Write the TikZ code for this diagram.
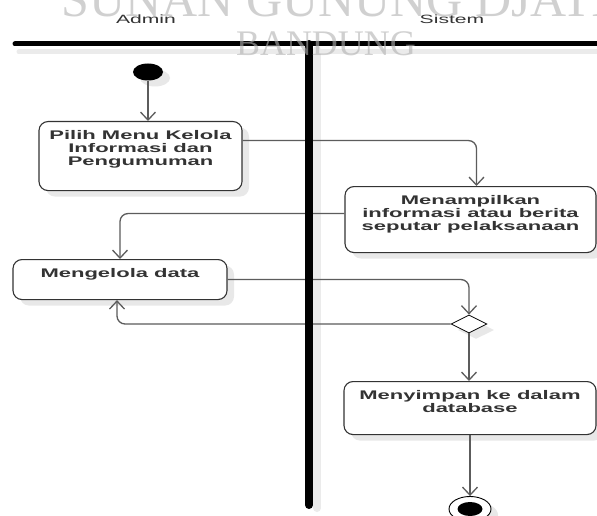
\documentclass[tikz,border=0pt]{standalone}
\usepackage{fontspec}
\usepackage{xcolor}
\usepackage{tikz}
\usetikzlibrary{arrows.meta,shapes.geometric,shadows}
\setmainfont[FakeStretch=1.76]{Liberation Sans}
\newfontfamily\markfont{Liberation Serif}
\newcommand*{\xMin}{0}
\newcommand*{\xMax}{597}
\newcommand*{\yMin}{0}
\newcommand*{\yMax}{516}
\newcommand*{\xLane}{309}
\newcommand*{\yLane}{44}
\definecolor{inkgray}{HTML}{333333}
\definecolor{flowgray}{HTML}{5C5C5C}
\tikzset{
  shade box/.style={drop shadow={shadow xshift=7pt,shadow yshift=-6pt,fill=black!9,opacity=1}},
  act/.style={draw=inkgray,line width=1.1pt,rounded corners=9pt,fill=white,shade box,
    align=center,anchor=north,inner ysep=7.5pt,text height=#1,text depth=15pt,
    font=\fontsize{12.5}{13}\selectfont\bfseries,text=inkgray},
  flow/.style={draw=flowgray,line width=1.3pt,rounded corners=8pt,
    -{Straight Barb[length=8pt,width=15pt]}},
  lane/.style={line width=#1,line cap=round},
  watermark/.style={text=black!30,text opacity=0.6,anchor=base,inner sep=0pt},
}

\begin{document}
\begin{tikzpicture}[x=1pt,y=-1pt]
    \useasboundingbox[fill=white] (\xMin,\yMin) rectangle (\xMax,\yMax);

    \draw [lane=5pt,black!8] (19,\yLane+8) -- (\xMax,\yLane+8);
    \draw [lane=8pt,black!8] (\xLane+8,\yLane+6) -- (\xLane+8,508);

    \node [font=\fontsize{12}{14}\selectfont,text=inkgray] (admin) at (146,19) {Admin};
    \node [font=\fontsize{12}{14}\selectfont,text=inkgray] (sistem) at (452,19) {Sistem};

    \node [ellipse,fill=black,minimum width=30pt,minimum height=17pt,inner sep=0pt,shade box] (mulai) at (148,72) {};
    \node [act=36pt,text depth=18pt,minimum width=203pt] (pilih) at (140.5,121) {Pilih Menu Kelola\\Informasi dan\\Pengumuman};
    \node [act=36pt,minimum width=251pt] (tampil) at (470.5,186) {Menampilkan\\informasi atau berita\\seputar pelaksanaan};
    \node [act=10pt,minimum width=214pt] (kelola) at (120,259) {Mengelola data};
    \node [diamond,aspect=2,draw=black,fill=white,line width=0.8pt,minimum width=36pt,minimum height=18pt,inner sep=0pt,shade box] (cek) at (469,324) {};
    \node [act=23pt,minimum width=252pt] (simpan) at (470,381) {Menyimpan ke dalam\\database};
    \node [ellipse,draw=black,fill=white,line width=0.9pt,minimum width=42pt,minimum height=25pt,inner sep=0pt,shade box,
      path picture={\fill[black] (path picture bounding box.center) ellipse (12.5pt and 7pt);}] (selesai) at (470,509) {};

    \draw [flow] (mulai) -- (mulai |- pilih.north);
    \draw [flow] ([yshift=15.5pt]pilih.east) -| ([xshift=6pt]tampil.north);
    \draw [flow] ([yshift=6pt]tampil.west) -| (kelola.north);
    \draw [flow] (kelola.east) -| (cek.north);
    \draw [flow] (cek.west) -| ([xshift=-3pt]kelola.south);
    \draw [flow] (cek.south) -- (cek.south |- simpan.north);
    \draw [flow] (simpan.south) -- (selesai.north);

    \draw [lane=5pt] (15,\yLane) -- (\xMax,\yLane);
    \draw [lane=8pt] (\xLane,\yLane) -- (\xLane,505);

    \node [watermark,font=\markfont\fontsize{50}{50}\selectfont] (kampus) at (335,17) {SUNAN GUNUNG DJATI};
    \node [watermark,font=\markfont\fontsize{36}{36}\selectfont] (kota) at (326,56) {BANDUNG};
  \end{tikzpicture}
\end{document}
